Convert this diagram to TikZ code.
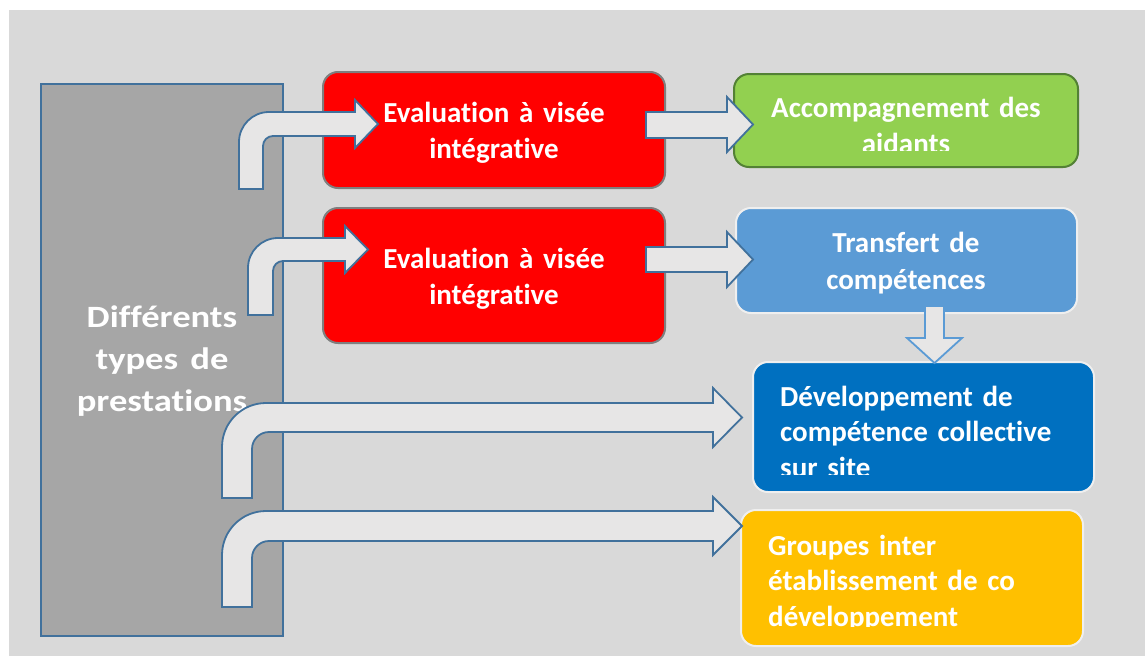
\documentclass[tikz,border=0pt]{standalone}
\usepackage{fontspec}
\setmainfont{Carlito}[Ligatures=NoCommon]
\usetikzlibrary{positioning}

\definecolor{bgback}{HTML}{D9D9D9}
\definecolor{greybox}{HTML}{A6A6A6}
\definecolor{arrowline}{HTML}{41719C}
\definecolor{arrowfill}{HTML}{E7E6E6}
\definecolor{downline}{HTML}{5B9BD5}
\definecolor{redfill}{HTML}{FF0000}
\definecolor{redline}{HTML}{7F7F7F}
\definecolor{greenfill}{HTML}{92D050}
\definecolor{greenline}{HTML}{538135}
\definecolor{lightblue}{HTML}{5B9BD5}
\definecolor{darkblue}{HTML}{0070C0}
\definecolor{yellowfill}{HTML}{FFC000}
\definecolor{paleline}{HTML}{EFEFEF}

\tikzset{
  box/.style={draw, rounded corners=15pt, line width=2pt, inner sep=0pt},
  boxtext/.style={text=white, font=\bfseries\fontsize{29}{36}\selectfont, inner sep=0pt, text width=330pt, align=center, anchor=base},
  lefttext/.style={text=white, font=\bfseries\fontsize{29}{35.5}\selectfont, inner sep=0pt, text width=320pt, align=left, anchor=base west},
  blockarrow/.style={draw=arrowline, fill=arrowfill, line width=1.8pt, line join=miter},
}

\begin{document}
\begin{tikzpicture}[x=1pt, y=-1pt]
\useasboundingbox (0,0) rectangle (1145,656);
\fill[bgback] (9,10) rectangle (1145,656);

% boxes
\node[draw=arrowline, fill=greybox, line width=2pt, minimum width=242pt, minimum height=552pt, inner sep=0pt] (types) at (162,360) {};
\node[box, draw=redline, fill=redfill, minimum width=342pt, minimum height=116pt] (eval1) at (494,130) {};
\node[box, draw=redline, fill=redfill, minimum width=342pt, minimum height=135pt] (eval2) at (494,275.5) {};
\node[box, draw=greenline, fill=greenfill, minimum width=344pt, minimum height=93pt] (accomp) at (906,120.5) {};
\node[box, draw=paleline, fill=lightblue, minimum width=341pt, minimum height=105pt] (transfert) at (906.5,260.5) {};
\node[box, draw=paleline, fill=darkblue, minimum width=341pt, minimum height=130pt] (devcomp) at (923.5,427) {};
\node[box, draw=paleline, fill=yellowfill, minimum width=342pt, minimum height=136pt] (groupes) at (912,578) {};

% texts
\node[text=white, font=\bfseries\fontsize{31}{42}\selectfont, inner sep=0pt, text width=240pt, align=center, anchor=base, xscale=1.18, transform shape] (typestext) at (162,327) {Différents\\types de\\prestations};
\node[boxtext] (eval1text) at (494,122) {Evaluation à visée\\intégrative};
\node[boxtext] (eval2text) at (494,268) {Evaluation à visée\\intégrative};
\begin{scope}
  \clip (734,74) rectangle (1078,150);
  \node[boxtext] (accomptext) at (906,117) {Accompagnement des\\aidants};
\end{scope}
\node[boxtext, font=\bfseries\fontsize{29}{37}\selectfont] (transferttext) at (906,252) {Transfert de\\compétences};
\begin{scope}
  \clip (753,362) rectangle (1094,474);
  \node[lefttext] (devcomptext) at (780,406) {Développement de\\compétence collective\\sur site};
\end{scope}
\begin{scope}
  \clip (741,510) rectangle (1083,626);
  \node[lefttext] (groupestext) at (768,555) {Groupes inter\\établissement de co\\développement};
\end{scope}

% bent arrows
\foreach \xl/\xr/\yb/\yt/\ys/\hb/\tip/\ht/\hbm/\ro/\ri in {239/263/189/112/136/355/378/100/148/30/10, 248/273/315/238/261/345/368/226/273/30/10, 222/252/498/403/432/713/742/388/447/44/17, 222/252/607/511/541/713/742/497/555/44/17}
  \draw[blockarrow] (\xl,\yb) -- (\xl,\yt+\ro) arc[start angle=180, end angle=270, radius=\ro] -- (\hb,\yt) -- (\hb,\ht) -- (\tip,{(\ht+\hbm)/2}) -- (\hb,\hbm) -- (\hb,\ys) -- (\xr+\ri,\ys) arc[start angle=270, end angle=180, radius=\ri] -- (\xr,\yb) -- cycle;

% straight arrows
\foreach \ya/\yb/\yc/\yd in {97/112/138/152, 232/247/272/287}
  \draw[blockarrow] (646,\yb) -- (727,\yb) -- (727,\ya) -- (753,{(\ya+\yd)/2}) -- (727,\yd) -- (727,\yc) -- (646,\yc) -- cycle;

% down arrow
\draw[blockarrow, draw=downline] (925,306) -- (944,306) -- (944,338) -- (962,338) -- (934.5,363) -- (907,338) -- (925,338) -- cycle;
\end{tikzpicture}
\end{document}
